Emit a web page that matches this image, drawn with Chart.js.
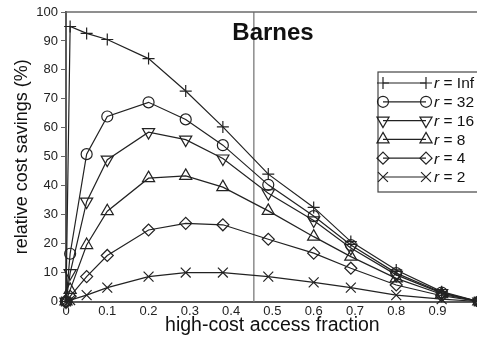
<!DOCTYPE html>
<html>
<head>
<meta charset="utf-8">
<script src="https://cdn.jsdelivr.net/npm/chart.js@4/dist/chart.umd.min.js"></script>
<style>
html,body{margin:0;padding:0;background:#fff;overflow:hidden;}
#wrap{width:477px;height:337px;position:relative;overflow:hidden;}
#c{position:absolute;left:0;top:0;}
</style>
</head>
<body>
<div id="wrap"><canvas id="c" width="487" height="337"></canvas></div>
<script>
// ---- data ----
const fractions = [0, 0.01, 0.05, 0.1, 0.2, 0.29, 0.38, 0.49, 0.6, 0.69, 0.8, 0.91, 1.0];
const rInf = [0, 95, 92.6, 90.5, 83.9, 72.7, 60.3, 44.0, 32.5, 20.7, 10.9, 3.4, 0];
const r32  = [0, 16.5, 50.9, 63.9, 68.8, 62.9, 54.0, 40.3, 29.5, 19.5, 9.8, 3.1, 0];
const r16  = [0, 9.8, 34.5, 49.0, 58.5, 55.9, 49.4, 37.4, 28.0, 18.5, 9.2, 2.9, 0];
const r8   = [0, 4.0, 19.5, 31.2, 42.6, 43.4, 39.5, 31.3, 22.4, 15.5, 8.0, 2.5, 0];
const r4   = [0, 1.8, 8.6, 15.9, 24.7, 27.0, 26.5, 21.5, 16.7, 11.5, 5.7, 2.0, 0];
const r2   = [0, 0.5, 2.2, 4.8, 8.6, 10.0, 10.0, 8.6, 6.6, 4.8, 2.2, 0.8, 0];
const seriesLabels = ['Inf', '32', '16', '8', '4', '2'];
const xTickLabels = ['0', '0.1', '0.2', '0.3', '0.4', '0.5', '0.6', '0.7', '0.8', '0.9'];
const markerX = [0.455];
const chartTitle = 'Barnes';

const seriesValues = [rInf, r32, r16, r8, r4, r2];
const styles = [
  {pointStyle: 'cross', radius: 6, rotation: 0},
  {pointStyle: 'circle', radius: 5.5, rotation: 0},
  {pointStyle: 'triangle', radius: 7, rotation: 180},
  {pointStyle: 'triangle', radius: 7, rotation: 0},
  {pointStyle: 'rectRot', radius: 6, rotation: 0},
  {pointStyle: 'crossRot', radius: 7, rotation: 0}
];
const lineColor = '#222';

const datasets = seriesValues.map((vals, i) => ({
  label: 'r = ' + seriesLabels[i],
  data: vals.map((v, k) => ({x: fractions[k], y: v})),
  showLine: true,
  borderColor: lineColor,
  borderWidth: 1.2,
  pointStyle: styles[i].pointStyle,
  pointRadius: styles[i].radius,
  pointRotation: styles[i].rotation,
  pointBorderColor: lineColor,
  pointBackgroundColor: 'rgba(0,0,0,0)',
  pointBorderWidth: 1.2,
  tension: 0,
  clip: false
}));

const FONT = '"Liberation Sans", Arial, sans-serif';
const VIEW_W = 477;

const decor = {
  id: 'decor',
  beforeDatasetsDraw(chart) {
    const {ctx, chartArea, scales} = chart;
    ctx.save();
    markerX.forEach(v => {
      const px = scales.x.getPixelForValue(v);
      ctx.strokeStyle = '#8c8c8c';
      ctx.lineWidth = 1.5;
      ctx.beginPath();
      ctx.moveTo(px, chartArea.top);
      ctx.lineTo(px, chartArea.bottom);
      ctx.stroke();
    });
    ctx.strokeStyle = '#6a6a6a';
    ctx.lineWidth = 1.5;
    ctx.beginPath();
    ctx.moveTo(chartArea.left, chartArea.top);
    ctx.lineTo(chart.width + 2, chartArea.top);
    ctx.stroke();
    ctx.fillStyle = '#111';
    ctx.font = 'bold 24px ' + FONT;
    ctx.textAlign = 'center';
    ctx.textBaseline = 'alphabetic';
    ctx.fillText(chartTitle, 273, chartArea.top + 28);
    ctx.restore();
  },
  afterDraw(chart) {
    const {ctx} = chart;
    ctx.save();
    const boxL = 378, boxT = 72, boxB = 192;
    ctx.fillStyle = '#fff';
    ctx.fillRect(boxL, boxT, VIEW_W - boxL + 5, boxB - boxT);
    ctx.strokeStyle = '#444';
    ctx.lineWidth = 1.2;
    ctx.strokeRect(boxL, boxT, VIEW_W - boxL + 5, boxB - boxT);
    const rowY0 = 83, rowStep = 18.8;
    chart.data.datasets.forEach((ds, i) => {
      const y = rowY0 + i * rowStep;
      const x1 = 383, x2 = 426;
      ctx.strokeStyle = lineColor;
      ctx.lineWidth = 1.2;
      ctx.beginPath();
      ctx.moveTo(x1, y);
      ctx.lineTo(x2, y);
      ctx.stroke();
      const opts = {pointStyle: ds.pointStyle, radius: ds.pointRadius, rotation: ds.pointRotation, borderWidth: 1.2};
      ctx.fillStyle = 'rgba(0,0,0,0)';
      Chart.helpers.drawPoint(ctx, opts, x1, y);
      ctx.strokeStyle = lineColor;
      Chart.helpers.drawPoint(ctx, opts, x2, y);
      ctx.fillStyle = '#111';
      ctx.textBaseline = 'middle';
      ctx.textAlign = 'left';
      ctx.font = 'italic 15.5px ' + FONT;
      ctx.fillText('r', 434, y + 1);
      const w = ctx.measureText('r').width;
      ctx.font = '15.5px ' + FONT;
      ctx.fillText(' = ' + seriesLabels[i], 434 + w, y + 1);
    });
    ctx.restore();
  }
};

new Chart(document.getElementById('c'), {
  type: 'scatter',
  data: {datasets},
  options: {
    responsive: false,
    animation: false,
    devicePixelRatio: 1,
    layout: {padding: {top: 12, right: 0, left: 0, bottom: 0}},
    plugins: {legend: {display: false}, tooltip: {enabled: false}, title: {display: false}},
    scales: {
      x: {
        type: 'linear', min: 0, max: 1,
        afterFit(scale) { scale.height = 35.5; },
        grid: {display: true, drawOnChartArea: false, drawTicks: false, color: 'rgba(0,0,0,0)'},
        border: {display: true, color: '#5a5a5a', width: 2},
        ticks: {
          stepSize: 0.1, padding: 2, color: '#222', maxRotation: 0,
          font: {family: FONT, size: 13},
          callback(v) {
            const idx = Math.round(v * 10);
            return idx < xTickLabels.length ? xTickLabels[idx] : '';
          }
        },
        title: {display: true, text: 'high-cost access fraction', color: '#111',
                font: {family: FONT, size: 19.5}, padding: {top: -1, bottom: 0}}
      },
      y: {
        type: 'linear', min: 0, max: 100,
        afterFit(scale) { scale.width = 66; },
        grid: {display: true, drawOnChartArea: false, tickLength: 5, color: '#666'},
        border: {display: true, color: '#5a5a5a', width: 2},
        ticks: {stepSize: 10, padding: 3, color: '#222', font: {family: FONT, size: 13}},
        title: {display: true, text: 'relative cost savings (%)', color: '#111',
                font: {family: FONT, size: 18}, padding: {top: 11, bottom: 0}}
      }
    }
  },
  plugins: [decor]
});
</script>
</body>
</html>
